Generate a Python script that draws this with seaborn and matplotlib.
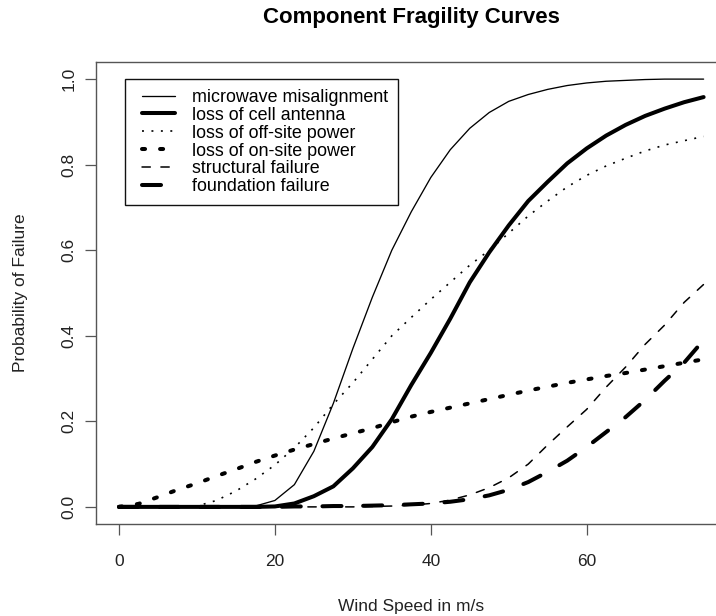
import matplotlib
matplotlib.use("Agg")
import matplotlib.pyplot as plt
import seaborn as sns
from matplotlib.lines import Line2D
from matplotlib.legend_handler import HandlerLine2D

# ---- data ----
WIND = [0, 2.5, 5, 7.5, 10, 12.5, 15, 17.5, 20, 22.5, 25, 27.5, 30, 32.5, 35,
        37.5, 40, 42.5, 45, 47.5, 50, 52.5, 55, 57.5, 60, 62.5, 65, 67.5, 70, 72.5, 75]

MICROWAVE = [0, 0, 0, 0, 0, 0, 0, 0.002, 0.015, 0.052, 0.13, 0.242, 0.37, 0.49, 0.60,
             0.69, 0.77, 0.835, 0.885, 0.922, 0.948, 0.964, 0.976, 0.985, 0.991, 0.995,
             0.997, 0.999, 1.0, 1.0, 1.0]
CELL_ANTENNA = [0, 0, 0, 0, 0, 0, 0, 0, 0.001, 0.008, 0.025, 0.048, 0.09, 0.14, 0.205,
                0.285, 0.36, 0.44, 0.525, 0.595, 0.658, 0.715, 0.76, 0.803, 0.838, 0.868,
                0.893, 0.914, 0.931, 0.946, 0.958]
OFFSITE_POWER = [0, 0, 0, 0, 0.002, 0.015, 0.037, 0.065, 0.098, 0.138, 0.185, 0.24, 0.29,
                 0.345, 0.40, 0.443, 0.485, 0.525, 0.565, 0.60, 0.64, 0.68, 0.715, 0.748,
                 0.775, 0.797, 0.815, 0.832, 0.846, 0.856, 0.866]
ONSITE_POWER = [0, 0.007, 0.023, 0.04, 0.055, 0.072, 0.088, 0.105, 0.12, 0.134, 0.147,
                0.16, 0.172, 0.184, 0.198, 0.211, 0.222, 0.232, 0.242, 0.252, 0.262,
                0.272, 0.281, 0.29, 0.298, 0.306, 0.313, 0.321, 0.329, 0.337, 0.345]
STRUCTURAL = [0, 0, 0, 0, 0, 0, 0, 0, 0, 0, 0, 0, 0, 0.001, 0.002, 0.004, 0.008, 0.016,
              0.028, 0.045, 0.068, 0.1, 0.145, 0.187, 0.228, 0.28, 0.327, 0.38, 0.425,
              0.478, 0.52]
FOUNDATION = [0, 0, 0, 0, 0, 0, 0, 0, 0, 0.001, 0.001, 0.002, 0.002, 0.003, 0.004, 0.006,
              0.008, 0.012, 0.018, 0.027, 0.04, 0.058, 0.082, 0.108, 0.14, 0.175, 0.21,
              0.25, 0.295, 0.337, 0.39]

LABELS = ["microwave misalignment", "loss of cell antenna", "loss of off-site power",
          "loss of on-site power", "structural failure", "foundation failure"]
X_TICKS = [0, 20, 40, 60]
Y_TICKS = [0.0, 0.2, 0.4, 0.6, 0.8, 1.0]

# ---- styling ----
sns.set_theme(style="white")
plt.rcParams["font.family"] = ["Liberation Sans", "DejaVu Sans"]
plt.rcParams["lines.scale_dashes"] = False

W, H = 716, 616
fig = plt.figure(figsize=(W / 100, H / 100), dpi=100)
ax_left, ax_right, ax_top, ax_bottom = 95.6, 727.0, 62.0, 524.0
ax = fig.add_axes([ax_left / W, (H - ax_bottom) / H,
                   (ax_right - ax_left) / W, (ax_bottom - ax_top) / H])

styles = [
    dict(linewidth=0.95, linestyle="-"),
    dict(linewidth=2.9, linestyle="-"),
    dict(linewidth=1.2, linestyle=(0, (1.4, 5.4)), dash_capstyle="butt"),
    dict(linewidth=2.9, linestyle=(0, (2.2, 10.8)), dash_capstyle="round"),
    dict(linewidth=1.1, linestyle=(0, (6.0, 7.6)), dash_capstyle="round"),
    dict(linewidth=2.9, linestyle=(0, (13.7, 15.6)), dash_capstyle="round"),
]
series = [MICROWAVE, CELL_ANTENNA, OFFSITE_POWER, ONSITE_POWER, STRUCTURAL, FOUNDATION]
for vals, lab, st in zip(series, LABELS, styles):
    sns.lineplot(x=WIND, y=vals, ax=ax, color="black", label=lab,
                 solid_capstyle="round", solid_joinstyle="round", **st)

ax.set_xlim(-3, 78)
ax.set_ylim(-0.04, 1.04)
ax.set_xticks(X_TICKS)
ax.set_xticklabels([str(t) for t in X_TICKS])
ax.set_yticks(Y_TICKS)
ax.set_yticklabels([f"{t:.1f}" for t in Y_TICKS])

spine_col = "#555555"
for s in ax.spines.values():
    s.set_visible(True)
    s.set_color(spine_col)
    s.set_linewidth(1.0)
ax.tick_params(axis="both", direction="out", length=7.7, width=0.9, color=spine_col,
               labelsize=12.5, labelcolor="#222222", left=True, bottom=True)
ax.tick_params(axis="x", pad=14)
ax.tick_params(axis="y", pad=6, labelrotation=90)
for lbl in ax.get_yticklabels():
    lbl.set_va("center")

ax.set_xlabel("Wind Speed in m/s", fontsize=12.5, color="#222222")
ax.xaxis.set_label_coords(0.5, (ax_bottom - 606) / (ax_bottom - ax_top))
ax.xaxis.label.set_va("center")
ax.set_ylabel("Probability of Failure", fontsize=12.5, color="#222222")
ax.yaxis.set_label_coords((20 - ax_left) / (ax_right - ax_left), 0.5)
ax.yaxis.label.set_va("center")

fig.text(411 / W, 1 - 17 / H, "Component Fragility Curves", ha="center", va="center",
         fontsize=16, fontweight="bold", color="#000000")

leg = ax.legend(loc="upper left",
                bbox_to_anchor=((125 - ax_left) / (ax_right - ax_left),
                                (ax_bottom - 79) / (ax_bottom - ax_top)),
                borderaxespad=0, fontsize=12.9, frameon=True, fancybox=False,
                framealpha=1, edgecolor="#111111", handlelength=2.25,
                handletextpad=0.93, labelspacing=0.05, borderpad=0.55,
                handler_map={Line2D: HandlerLine2D(xpad=0.4)})
leg.get_frame().set_linewidth(1.0)
for t in leg.get_texts():
    t.set_color("#000000")

fig.savefig("out.png", dpi=100)
